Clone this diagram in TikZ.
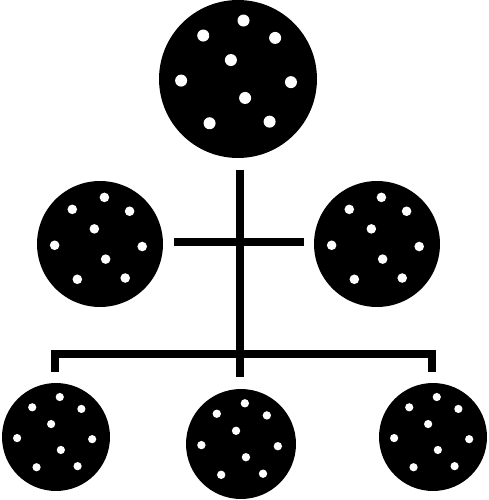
\documentclass[tikz,border=0pt]{standalone}
\begin{document}
\begin{tikzpicture}[x=0.02cm,y=-0.02cm]
\tikzset{
  disc/.style={circle,fill=black,inner sep=0pt,outer sep=0pt},
  bar/.style={line width=0.16cm,draw=black,line cap=butt,line join=miter}
}
\useasboundingbox (0,0) rectangle (489,500);
\newcommand\spots[3]{%
  \foreach \a/\b in {0.07/-0.74,-0.44/-0.55,0.47/-0.52,-0.09/-0.24,-0.72/0.02,0.67/0.04,0.09/0.24,-0.36/0.56,0.40/0.54}{%
    \fill[white] ({#1+\a*#3},{#2+\b*#3}) circle[radius={0.076*#3}];
  }%
}
% discs
\node[disc,minimum size=3.16cm] (top) at (238,79) {};
\node[disc,minimum size=2.52cm] (ml) at (100,244) {};
\node[disc,minimum size=2.52cm] (mr) at (377,244) {};
\node[disc,minimum size=2.16cm] (bl) at (56,437) {};
\node[disc,minimum size=2.20cm] (bm) at (241,444) {};
\node[disc,minimum size=2.16cm] (br) at (433,437) {};
\spots{238}{79}{79}
\spots{100}{244}{63}
\spots{377}{244}{63}
\spots{56}{437}{54}
\spots{241}{444}{55}
\spots{433}{437}{54}
% connectors
\coordinate (vtop) at (240,170);
\coordinate (vbot) at (240,377);
\coordinate (hl) at (174,242);
\coordinate (hr) at (304,242);
\coordinate (lleg) at (55,372);
\coordinate (rleg) at (432,372);
\coordinate (barl) at (55,353.5);
\coordinate (barr) at (432,353.5);
\draw[bar] (vtop) -- (vbot);
\draw[bar] (hl) -- (hr);
\draw[bar] (lleg) -- (barl) -- (barr) -- (rleg);
\end{tikzpicture}
\end{document}
